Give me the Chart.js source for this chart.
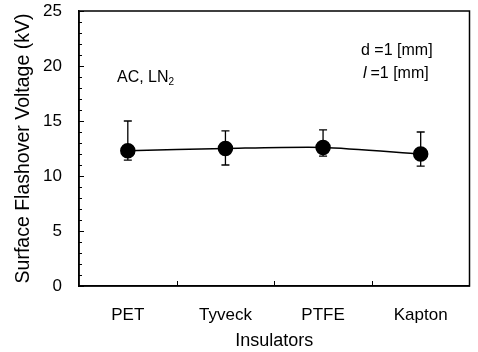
<!DOCTYPE html>
<html><head><meta charset="utf-8">
<script src="https://cdn.jsdelivr.net/npm/chart.js@4"></script>
<style>html,body{margin:0;padding:0;background:#fff}#wrap{width:478px;height:352px}</style>
</head><body><div id="wrap"><canvas id="c" width="478" height="352"></canvas></div>
<script>
const categories = ["PET", "Tyveck", "PTFE", "Kapton"];
const voltage = [12.3, 12.5, 12.6, 12.0];
const errHigh = [15.0, 14.1, 14.2, 14.0];
const errLow = [11.45, 11.0, 11.8, 10.9];
const yTicks = [0, 5, 10, 15, 20, 25];

const FONT = "'Liberation Sans', Arial, sans-serif";

const deco = {
  id: 'deco',
  afterDatasetsDraw(chart) {
    const ctx = chart.ctx;
    const x = chart.scales.x, y = chart.scales.y;
    ctx.save();
    ctx.strokeStyle = '#000';
    ctx.lineWidth = 1.3;
    for (let i = 0; i < categories.length; i++) {
      const px = x.getPixelForValue(i);
      const hi = y.getPixelForValue(errHigh[i]);
      const lo = y.getPixelForValue(errLow[i]);
      ctx.beginPath();
      ctx.moveTo(px, hi); ctx.lineTo(px, lo);
      ctx.moveTo(px - 4, hi); ctx.lineTo(px + 4, hi);
      ctx.moveTo(px - 4, lo); ctx.lineTo(px + 4, lo);
      ctx.stroke();
    }
    ctx.restore();
  },
  afterDraw(chart) {
    const ctx = chart.ctx, a = chart.chartArea;
    const x = chart.scales.x, y = chart.scales.y;
    ctx.save();
    ctx.strokeStyle = '#000';
    ctx.lineWidth = 1.5;
    ctx.strokeRect(a.left, a.top, a.right - a.left, a.bottom - a.top);
    ctx.lineWidth = 1;
    for (let v = 0; v <= 25; v++) {
      const py = Math.round(y.getPixelForValue(v)) + 0.5;
      const len = (v % 5 === 0) ? 5 : 3;
      ctx.beginPath(); ctx.moveTo(a.left, py); ctx.lineTo(a.left + len, py); ctx.stroke();
    }
    for (let i = 1; i < categories.length; i++) {
      const px = Math.round((x.getPixelForValue(i - 1) + x.getPixelForValue(i)) / 2) + 0.5;
      ctx.beginPath(); ctx.moveTo(px, a.bottom); ctx.lineTo(px, a.bottom - 5); ctx.stroke();
    }
    ctx.fillStyle = '#000';
    ctx.textBaseline = 'alphabetic';
    ctx.textAlign = 'left';
    ctx.font = '16px ' + FONT;
    const ax = a.left + 38, ay = a.top + 71;
    ctx.fillText('AC, LN', ax, ay);
    const w = ctx.measureText('AC, LN').width;
    ctx.font = '10px ' + FONT;
    ctx.fillText('2', ax + w, ay + 3);
    ctx.font = '16px ' + FONT;
    ctx.fillText('d =1 [mm]', a.left + 282, a.top + 44);
    ctx.font = 'italic 16px ' + FONT;
    ctx.fillText('l', a.left + 284, a.top + 67);
    ctx.font = '16px ' + FONT;
    ctx.fillText(' =1 [mm]', a.left + 287, a.top + 67);
    ctx.restore();
  }
};

new Chart(document.getElementById('c'), {
  type: 'line',
  data: {
    labels: categories,
    datasets: [{
      data: voltage,
      borderColor: '#000',
      backgroundColor: '#000',
      borderWidth: 1.5,
      pointRadius: 7,
      pointHoverRadius: 7,
      pointBackgroundColor: '#000',
      tension: 0.25,
      fill: false
    }]
  },
  options: {
    responsive: false,
    animation: false,
    layout: { padding: { left: 0, right: 6, top: 11, bottom: 0 } },
    plugins: { legend: { display: false }, tooltip: { enabled: false } },
    scales: {
      x: {
        offset: true,
        grid: { display: false, drawTicks: false },
        border: { display: true, color: '#000', width: 1.5 },
        ticks: { color: '#000', font: { family: FONT, size: 17 }, padding: 19 },
        title: { display: true, text: 'Insulators', color: '#000', font: { family: FONT, size: 18 }, padding: { top: 4, bottom: 0 } },
        afterFit(s) { s.height = 66; s.paddingLeft = 0; s.paddingRight = 0; }
      },
      y: {
        min: 0, max: 25,
        afterBuildTicks(s) { s.ticks = yTicks.map(v => ({ value: v })); },
        grid: { display: false, drawTicks: false },
        border: { display: true, color: '#000', width: 1.5 },
        ticks: { color: '#000', font: { family: FONT, size: 17 }, padding: 17 },
        title: { display: true, text: 'Surface Flashover Voltage (kV)', color: '#000', font: { family: FONT, size: 19.5 }, padding: { top: 12, bottom: 0 } },
        afterFit(s) { s.width = 79; s.paddingTop = 0; s.paddingBottom = 0; }
      }
    }
  },
  plugins: [deco]
});
</script>
</body></html>
